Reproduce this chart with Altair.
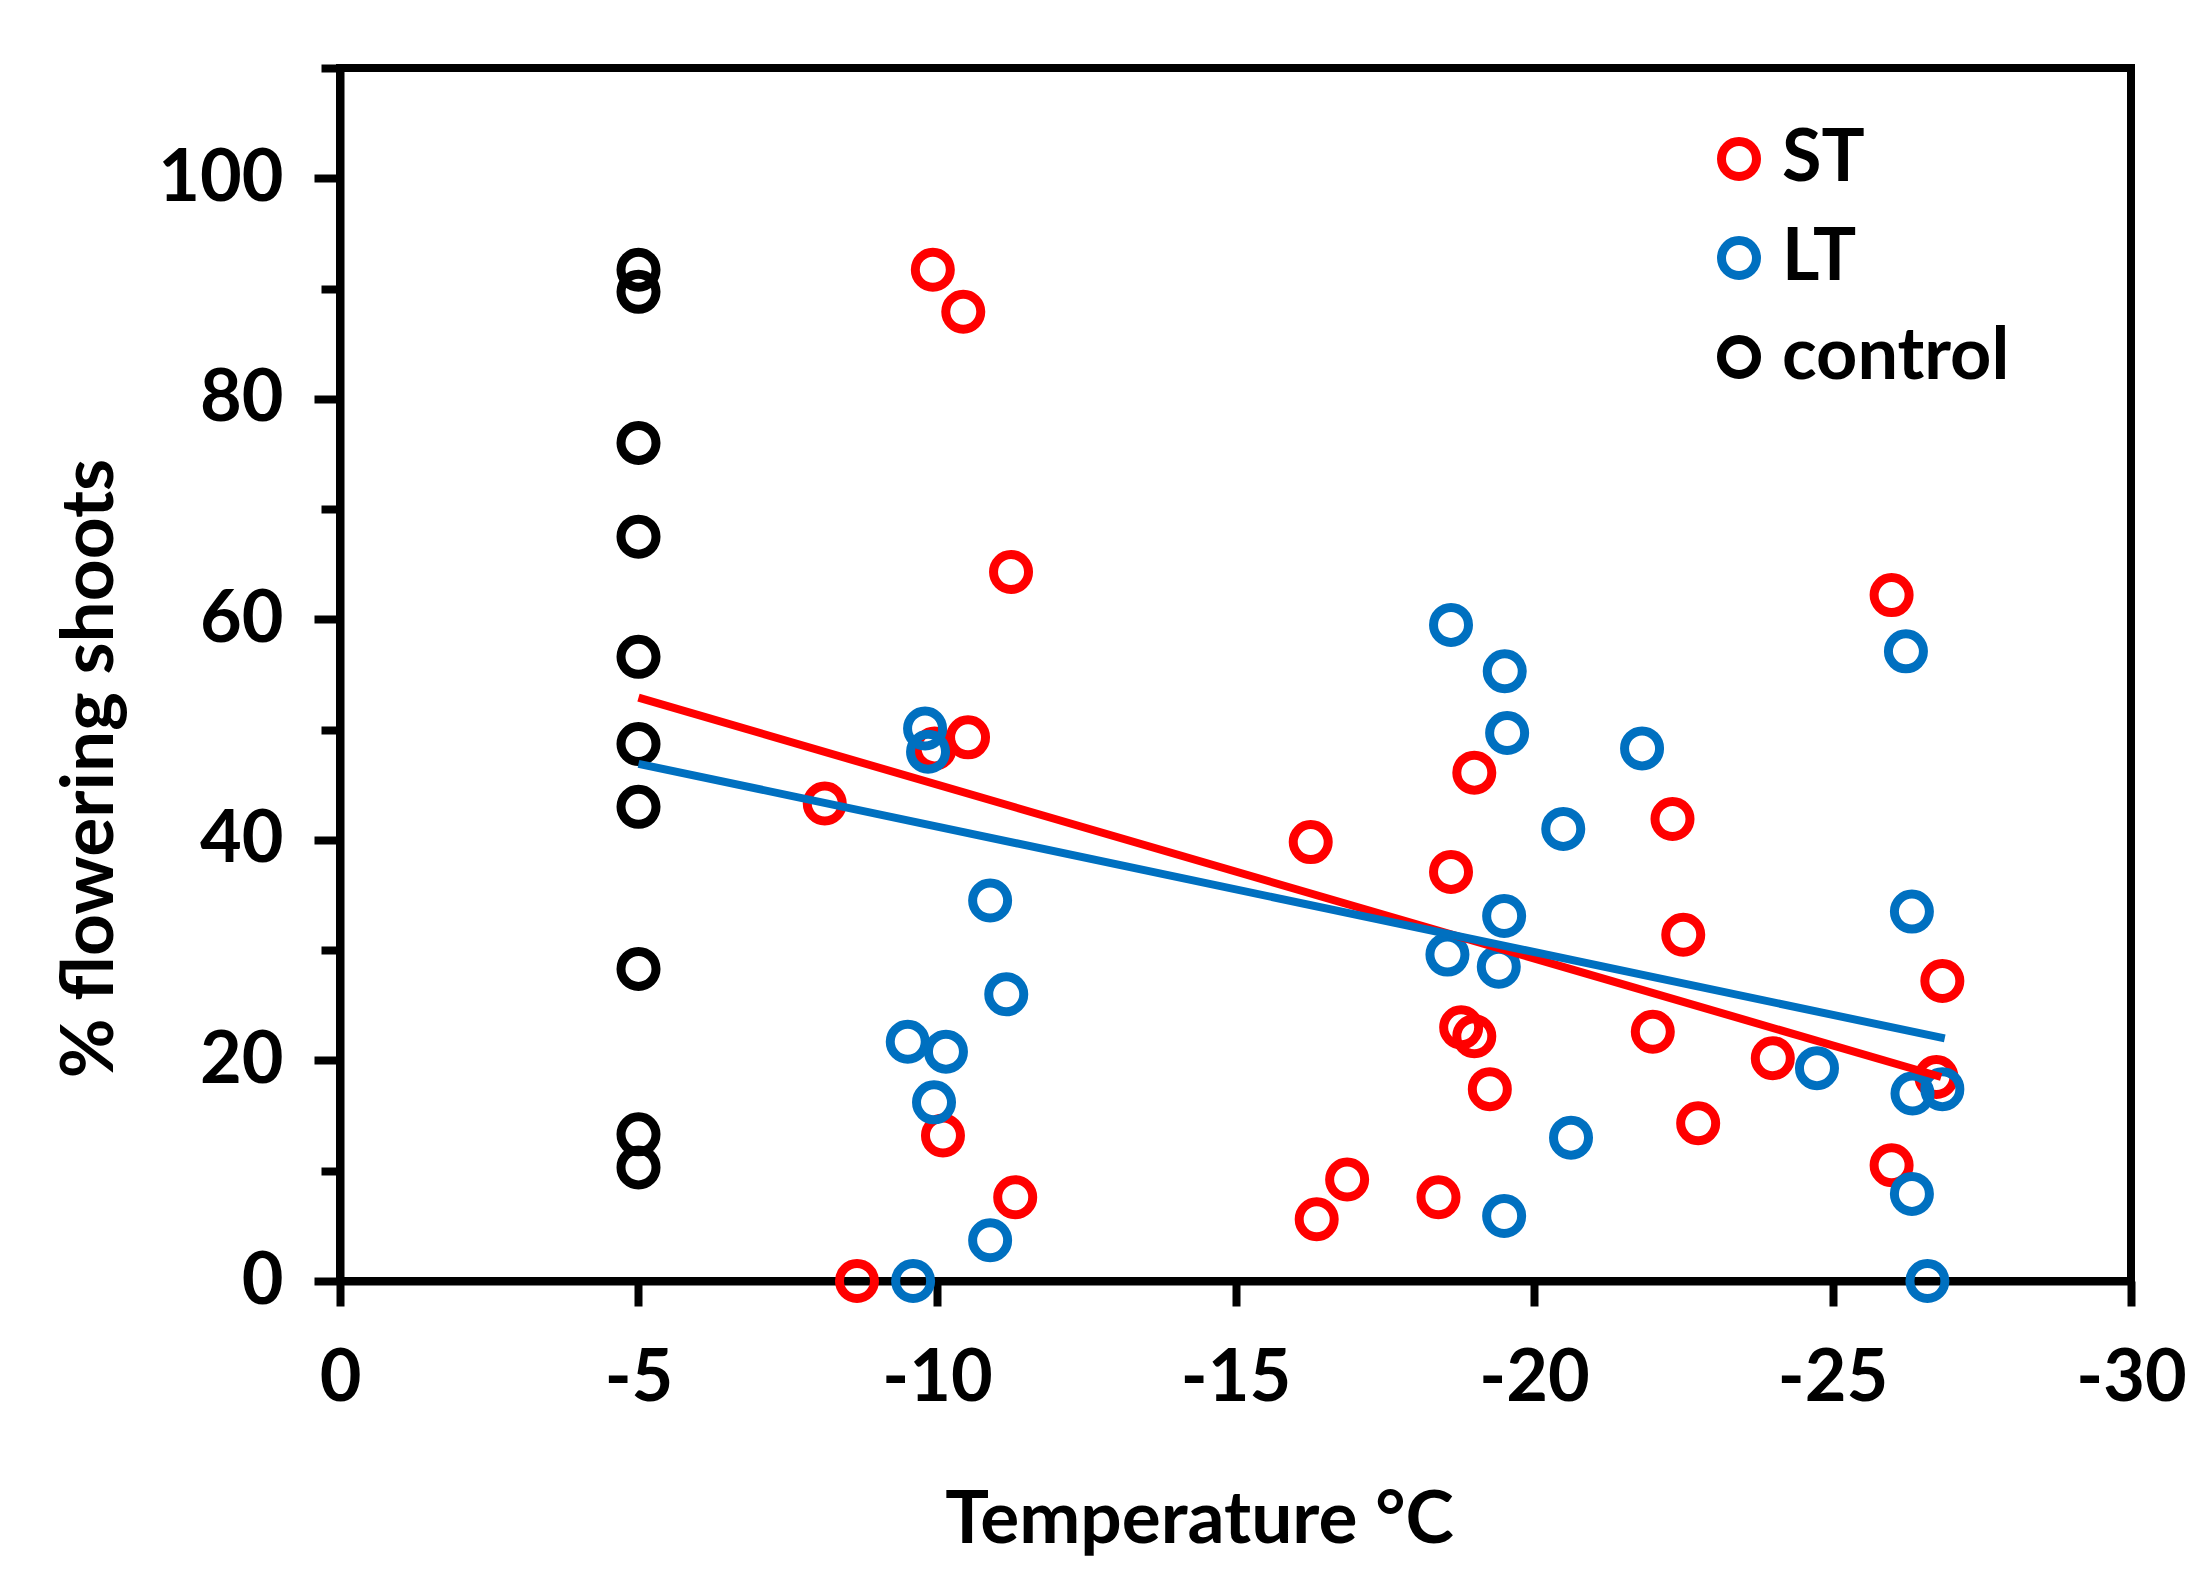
import pandas as pd
import altair as alt

# short-term (ST) frost treatment
st_temp = [-8.66, -8.12, -9.93, -10.44, -11.24, -10.52, -9.96, -10.10, -11.31, -16.26,
           -16.36, -16.87, -18.40, -18.61, -19.0, -18.78, -19.0, -19.26, -22.32, -22.50,
           -21.99, -22.75, -24.0, -25.99, -25.99, -26.74, -26.84]
st_flower = [0, 43.3, 91.7, 87.9, 64.3, 49.3, 48.3, 13.2, 7.6, 39.8,
             5.6, 9.2, 7.6, 37.1, 46.1, 23.0, 22.2, 17.4, 41.9, 31.4,
             22.6, 14.3, 20.2, 62.2, 10.5, 18.5, 27.2]

# long-term (LT) frost treatment
lt_temp = [-9.60, -9.51, -9.80, -9.85, -9.95, -10.15, -10.89, -11.16, -10.89, -18.61,
           -19.51, -19.55, -19.50, -18.55, -19.41, -19.50, -20.49, -20.62, -21.81, -24.74,
           -26.23, -26.33, -26.34, -26.33, -26.59, -26.84]
lt_flower = [0, 21.7, 50.1, 48.0, 16.2, 20.8, 34.5, 26.0, 3.7, 59.5,
             55.3, 49.7, 33.1, 29.6, 28.5, 5.9, 41.0, 13.0, 48.3, 19.3,
             57.1, 33.5, 17.0, 7.9, 0, 17.4]

# unfrozen control
ctrl_temp = [-5] * 10
ctrl_flower = [91.7, 89.7, 76.0, 67.5, 56.6, 48.7, 43.0, 28.3, 13.3, 10.3]

# linear trendline end points as drawn
trend_group = ["ST", "ST", "LT", "LT"]
trend_temp = [-5, -26.82, -5, -26.88]
trend_flower = [52.9, 18.5, 46.9, 22.0]

groups = ["ST", "LT", "control"]
colors = ["#FF0000", "#0070C0", "#000000"]

points = pd.DataFrame({
    "temp": st_temp + lt_temp + ctrl_temp,
    "flower": st_flower + lt_flower + ctrl_flower,
    "group": ["ST"] * len(st_temp) + ["LT"] * len(lt_temp) + ["control"] * len(ctrl_temp),
})
trends = pd.DataFrame({"temp": trend_temp, "flower": trend_flower, "group": trend_group})

FONT = "Lato"

x_enc = alt.X("temp:Q",
              scale=alt.Scale(domain=[0, -30], nice=False, zero=False),
              axis=alt.Axis(values=[0, -5, -10, -15, -20, -25, -30],
                            labelExpr="'' + datum.value",
                            labelFlush=False, labelOverlap=False,
                            tickSize=25, labelPadding=37,
                            title="Temperature °C",
                            titleX=859, titleY=239,
                            titleAlign="center", titleBaseline="middle"))
y_enc = alt.Y("flower:Q",
              scale=alt.Scale(domain=[0, 110], nice=False, zero=False),
              axis=alt.Axis(values=list(range(0, 111, 10)),
                            labelExpr="datum.value % 20 == 0 && datum.value <= 100 ? '' + datum.value : ''",
                            tickSize={"condition": {"test": "datum.value % 20 == 0", "value": 26},
                                      "value": 19},
                            labelPadding=31,
                            title="% flowering shoots",
                            titleX=-250, titleY=700, titleAngle=270,
                            titleAlign="center", titleBaseline="middle"))

pts = alt.Chart(points).mark_point(shape="circle", filled=False, size=1225,
                                   strokeWidth=9, opacity=1).encode(
    x=x_enc,
    y=y_enc,
    color=alt.Color("group:N", scale=alt.Scale(domain=groups, range=colors),
                    sort=groups,
                    legend=alt.Legend(title=None, orient="none",
                                      legendX=1363, legendY=55)),
)

lines = alt.Chart(trends).mark_line(strokeWidth=8).encode(
    x="temp:Q",
    y="flower:Q",
    stroke=alt.Stroke("group:N", scale=alt.Scale(domain=["ST", "LT"],
                                                 range=["#FF0000", "#0070C0"]),
                      legend=None),
)

chart = (pts + lines).properties(
    width=1791, height=1213,
    autosize=alt.AutoSizeParams(type="none"),
    padding={"left": 332, "top": 60, "right": 72, "bottom": 289},
).configure_view(
    stroke="black", strokeWidth=8
).configure_axis(
    grid=False,
    domainColor="black", domainWidth=8,
    tickColor="black", tickWidth=8, tickSize=26,
    labelFont=FONT, labelFontSize=72, labelFontWeight="bold", labelColor="black",
    titleFont=FONT, titleFontSize=73, titleFontWeight="bold", titleColor="black",
).configure_legend(
    labelFont=FONT, labelFontSize=72, labelFontWeight="bold", labelColor="black",
    labelLimit=0,
    symbolType="circle", symbolSize=1225, symbolStrokeWidth=9, symbolFillColor="white",
    rowPadding=27, labelOffset=7, padding=0,
)

chart.save("out.html", embed_options={"renderer": "svg", "actions": False})
